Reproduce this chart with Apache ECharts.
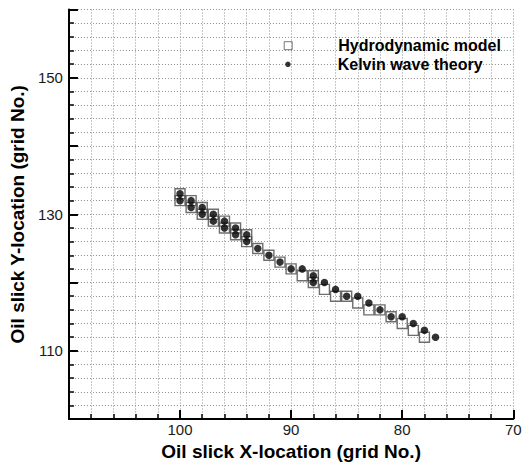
<!DOCTYPE html>
<html>
<head>
<meta charset="utf-8">
<script src="https://cdn.jsdelivr.net/npm/echarts@6/dist/echarts.min.js"></script>
<style>
html,body{margin:0;padding:0;background:#fff;}
#chart{width:526px;height:466px;}
</style>
</head>
<body>
<div id="chart"></div>
<script>
// Data (grid indices)
var hydroX = [100,100,99,99,98,98,97,97,96,96,95,95,94,94,93,92,91,90,89,88,88,87,86,85,84,83,82,81,80,79,78];
var hydroY = [133,132,132,131,131,130,130,129,129,128,128,127,127,126,125,124,123,122,121,121,120,119,118,118,117,116,116,115,114,113,112];
var kelvinX = [100,100,99,99,98,98,97,97,96,96,95,95,94,94,93,92,91,90,89,88,88,87,86,85,84,83,82,81,80,79,78,77];
var kelvinY = [133,132,132,131,131,130,130,129,129,128,128,127,127,126,125,124,123,122,122,121,120,120,119,118,118,117,116,115,115,114,113,112];
var xLabels = [100, 90, 80, 70];
var yLabels = [110, 130, 150];
var seriesNames = ['Hydrodynamic model', 'Kelvin wave theory'];

function pairs(xs, ys){ var out=[]; for (var i=0;i<xs.length;i++) out.push([xs[i], ys[i]]); return out; }

var font = 'Liberation Sans, Arial, Helvetica, sans-serif';
var gridLine = { show:true, lineStyle:{ color:'#8f8f8f', width:1, type:[1,2] } };

var chart = echarts.init(document.getElementById('chart'), null, {renderer:'svg'});
chart.setOption({
  animation:false,
  backgroundColor:'#fff',
  grid:{ left:60.5, right:12.7, top:9.5, bottom:42 },
  legend:[
    { data:[{ name:seriesNames[0], itemStyle:{ color:'rgba(255,255,255,0)', borderColor:'#555', borderWidth:1 } }],
      orient:'vertical', left:283.7, top:37.7, padding:0,
      itemWidth:8, itemHeight:8, selectedMode:false,
      textStyle:{ fontFamily:font, fontSize:16, fontWeight:'bold', color:'#000', lineHeight:16, padding:[0,0,0,41] } },
    { data:[seriesNames[1]], orient:'vertical', left:285.2, top:56.3, padding:0,
      itemWidth:5.5, itemHeight:5.5, selectedMode:false,
      textStyle:{ fontFamily:font, fontSize:16, fontWeight:'bold', color:'#000', lineHeight:16, padding:[0,0,0,42] } }
  ],
  xAxis:{
    type:'value', inverse:true, min:70, max:110, interval:10,
    name:'Oil slick X-location (grid No.)', nameLocation:'middle', nameGap:17,
    nameTextStyle:{ fontFamily:font, fontSize:19, fontWeight:'bold', color:'#000' },
    axisLine:{ show:true, onZero:false, lineStyle:{ color:'#000', width:2 } },
    axisTick:{ show:true, inside:true, length:9, lineStyle:{ color:'#000', width:2 } },
    minorTick:{ show:true, splitNumber:5, length:5, lineStyle:{ color:'#000', width:1.5 } },
    axisLabel:{ margin:3, fontFamily:font, fontSize:15, color:'#1a1a1a',
      formatter:function(v){ return xLabels.indexOf(v) >= 0 ? String(v) : ''; } },
    splitLine:gridLine,
    minorSplitLine:gridLine
  },
  yAxis:{
    type:'value', min:100, max:160, interval:10,
    name:'Oil slick Y-location (grid No.)', nameLocation:'middle', nameGap:34, nameRotate:90,
    nameTextStyle:{ fontFamily:font, fontSize:19, fontWeight:'bold', color:'#000' },
    axisLine:{ show:true, onZero:false, lineStyle:{ color:'#000', width:2 } },
    axisTick:{ show:true, inside:true, length:9, lineStyle:{ color:'#000', width:2 } },
    minorTick:{ show:true, splitNumber:5, length:5, lineStyle:{ color:'#000', width:1.5 } },
    axisLabel:{ margin:6, fontFamily:font, fontSize:15, color:'#1a1a1a',
      formatter:function(v){ return yLabels.indexOf(v) >= 0 ? String(v) : ''; } },
    splitLine:gridLine,
    minorSplitLine:gridLine
  },
  series:[
    { name:seriesNames[0], type:'scatter', symbol:'rect', symbolSize:10,
      itemStyle:{ color:'rgba(255,255,255,0)', borderColor:'#4a4a4a', borderWidth:1.4 },
      data:pairs(hydroX, hydroY), z:2 },
    { name:seriesNames[1], type:'scatter', symbol:'circle', symbolSize:7.5,
      itemStyle:{ color:'#000' },
      data:pairs(kelvinX, kelvinY), z:3 }
  ]
});
</script>
</body>
</html>
